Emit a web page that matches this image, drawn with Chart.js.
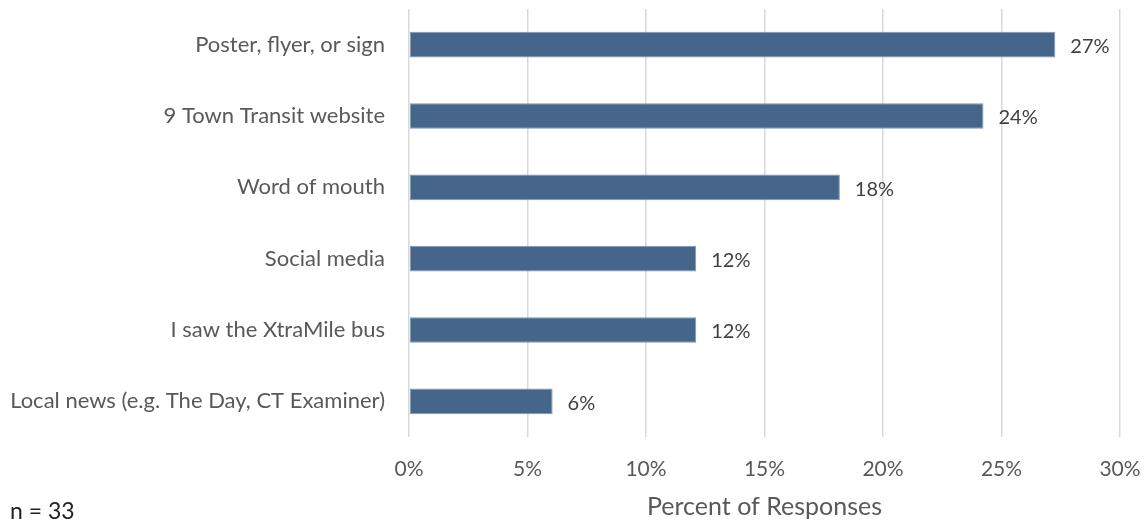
<!DOCTYPE html>
<html>
<head>
<meta charset="utf-8">
<script src="https://cdn.jsdelivr.net/npm/chart.js@4/dist/chart.umd.min.js"></script>
<style>
  html, body { margin: 0; padding: 0; background: #fff; }
  #wrap { position: relative; width: 1148px; height: 522px; }
  #note { position: absolute; left: 10px; top: 496px; font: 23px Lato, "Open Sans", sans-serif; color: #222; }
</style>
</head>
<body>
<div id="wrap">
  <canvas id="sourceChart" width="1148" height="522"></canvas>
  <div id="note">n = 33</div>
</div>
<script>
// survey: how did you hear about the service (n = 33)
const categories = [
    'Poster, flyer, or sign',
    '9 Town Transit website',
    'Word of mouth',
    'Social media',
    'I saw the XtraMile bus',
    'Local news (e.g. The Day, CT Examiner)'
];
const percentValues = [27.27, 24.24, 18.18, 12.12, 12.12, 6.06];
const valueLabels = ['27%', '24%', '18%', '12%', '12%', '6%'];
const tickValues = [0, 5, 10, 15, 20, 25, 30];

const fontFamily = 'Lato, "Open Sans", sans-serif';

// writes the % text just past the end of each bar
const barLabels = {
    id: 'barLabels',
    afterDatasetsDraw(chart) {
        let ctx = chart.ctx;
        let meta = chart.getDatasetMeta(0);
        ctx.save();
        ctx.font = '20px ' + fontFamily;
        ctx.fillStyle = '#404040';
        ctx.textAlign = 'left';
        ctx.textBaseline = 'middle';
        meta.data.forEach((bar, i) => {
            ctx.fillText(valueLabels[i], bar.x + 15, bar.y + 2);
        });
        ctx.restore();
    }
};

let ctx = document.getElementById('sourceChart').getContext('2d');
new Chart(ctx, {
    type: 'bar',
    data: {
        labels: categories,
        datasets: [{
            data: percentValues,
            backgroundColor: '#46658a',
            borderColor: '#7f96b2',
            borderWidth: 1,
            borderSkipped: false,
            barPercentage: 0.36,
            categoryPercentage: 1
        }]
    },
    options: {
        indexAxis: 'y',
        responsive: false,
        animation: false,
        layout: {
            padding: { top: 9, right: 28, bottom: 0, left: 0 }
        },
        plugins: {
            legend: { display: false },
            tooltip: { enabled: false }
        },
        scales: {
            x: {
                min: 0,
                max: 30,
                afterBuildTicks: function(scale) {
                    scale.ticks = tickValues.map(v => ({ value: v }));
                },
                afterFit: function(scale) {
                    scale.height = 85;
                    scale.paddingLeft = 0;
                    scale.paddingRight = 0;
                },
                grid: {
                    color: '#d9d9d9',
                    lineWidth: 1.5,
                    drawTicks: false
                },
                border: { display: false },
                ticks: {
                    padding: 20,
                    color: '#595959',
                    font: { family: fontFamily, size: 21 },
                    callback: function(value) { return value + '%'; }
                },
                title: {
                    display: true,
                    text: 'Percent of Responses',
                    color: '#595959',
                    font: { family: fontFamily, size: 25 },
                    padding: { top: 0, bottom: 0 }
                }
            },
            y: {
                afterFit: function(scale) {
                    scale.width = 409;
                    scale.paddingTop = 0;
                    scale.paddingBottom = 0;
                },
                grid: { display: false },
                border: { display: false },
                ticks: {
                    padding: 16,
                    color: '#595959',
                    font: { family: fontFamily, size: 22 }
                }
            }
        }
    },
    plugins: [barLabels]
});
</script>
</body>
</html>
